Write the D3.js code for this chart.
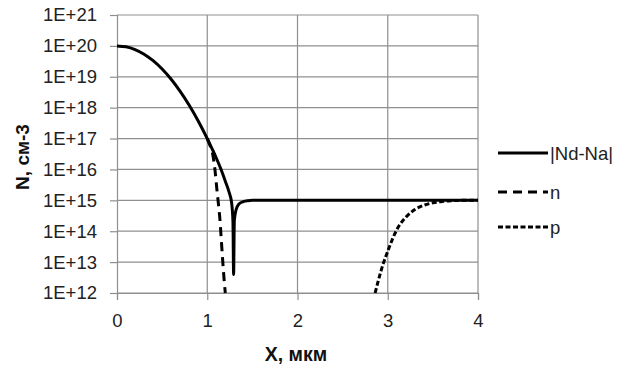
<!DOCTYPE html>
<html>
<head>
<meta charset="utf-8">
<script src="https://cdn.jsdelivr.net/npm/d3@7/dist/d3.min.js"></script>
<style>
  html, body { margin: 0; padding: 0; background: #fff; }
  svg { display: block; font-family: "Liberation Sans", Arial, sans-serif; }
</style>
</head>
<body>
<svg id="chart" width="635" height="365"></svg>
<script>
// Net doping |Nd-Na| and carrier profiles n, p versus depth X (µm), log scale
const xTicks = [0, 1, 2, 3, 4];
const yTickExps = [12, 13, 14, 15, 16, 17, 18, 19, 20, 21];

const netX = [0, 0.1, 0.2, 0.3, 0.4, 0.5, 0.6, 0.7, 0.8, 0.9, 1.0, 1.05, 1.1, 1.15, 1.2, 1.24, 1.27, 1.285, 1.292, 1.3, 1.32, 1.35, 1.4, 1.45, 1.5, 1.6, 2.0, 3.0, 4.0];
const netLog = [20, 19.97, 19.88, 19.73, 19.52, 19.25, 18.92, 18.53, 18.08, 17.57, 17.0, 16.69, 16.37, 16.02, 15.62, 15.28, 14.92, 14.3, 12.6, 14.35, 14.7, 14.88, 14.96, 14.99, 15.0, 15.0, 15.0, 15.0, 15.0];

const nX = [1.0, 1.03, 1.06, 1.085, 1.105, 1.125, 1.14, 1.155, 1.17, 1.185, 1.2];
const nLog = [17.0, 16.78, 16.5, 16.0, 15.4, 14.85, 14.4, 13.75, 13.1, 12.5, 12.0];

const pX = [2.86, 2.9, 2.95, 3.0, 3.06, 3.12, 3.2, 3.3, 3.4, 3.5, 3.6, 3.7, 3.85, 4.0];
const pLog = [12.0, 12.45, 12.95, 13.35, 13.8, 14.15, 14.45, 14.7, 14.84, 14.92, 14.96, 14.985, 15.0, 15.0];

const legendNames = ["|Nd-Na|", "n", "p"];
const legendDash = [null, "9,6", "5,2.5"];

const svg = d3.select("#chart");
const mLeft = 117, mRight = 478, mTop = 15, mBottom = 293;

const x = d3.scaleLinear().domain([0, 4]).range([mLeft, mRight]);
const y = d3.scaleLog().domain([1e12, 1e21]).range([mBottom, mTop]);

const grid = "#8f8f8f";

// grid
svg.append("g").selectAll("line").data(yTickExps).join("line")
  .attr("x1", mLeft).attr("x2", mRight)
  .attr("y1", d => y(Math.pow(10, d))).attr("y2", d => y(Math.pow(10, d)))
  .attr("stroke", grid).attr("stroke-width", 1.2);
svg.append("g").selectAll("line").data(xTicks.slice(1)).join("line")
  .attr("x1", d => x(d)).attr("x2", d => x(d))
  .attr("y1", mTop).attr("y2", mBottom)
  .attr("stroke", grid).attr("stroke-width", 1.2);

// axes
const yAxis = d3.axisLeft(y)
  .tickValues(yTickExps.map(e => Math.pow(10, e)))
  .tickFormat(d => "1E+" + Math.round(Math.log10(d)))
  .tickSize(7).tickPadding(13);
const gy = svg.append("g").attr("transform", `translate(${mLeft},0)`).call(yAxis);
const xAxis = d3.axisBottom(x).tickValues(xTicks).tickFormat(d3.format("d"))
  .tickSize(7).tickPadding(14);
const gx = svg.append("g").attr("transform", `translate(0,${mBottom})`).call(xAxis);
[gy, gx].forEach(g => {
  g.select(".domain").attr("stroke", grid).attr("stroke-width", 1.2);
  g.selectAll(".tick line").attr("stroke", grid).attr("stroke-width", 1.2);
  g.selectAll("text").attr("font-size", 18.5).attr("fill", "#222")
    .attr("font-family", "'Liberation Sans', Arial, sans-serif");
});

// axis titles
svg.append("text").attr("x", 296).attr("y", 361)
  .attr("text-anchor", "middle").attr("font-size", 19.5).attr("font-weight", "bold")
  .attr("fill", "#111").text("X, мкм");
svg.append("text").attr("transform", "translate(29,157) rotate(-90)")
  .attr("text-anchor", "middle").attr("font-size", 19).attr("font-weight", "bold")
  .attr("fill", "#111").text("N, см-3");

// curves
const line = d3.line().x(d => x(d[0])).y(d => y(Math.pow(10, d[1]))).curve(d3.curveMonotoneX);
const series = [
  { xs: netX, ls: netLog, dash: legendDash[0] },
  { xs: nX, ls: nLog, dash: legendDash[1] },
  { xs: pX, ls: pLog, dash: legendDash[2] }
];
const plot = svg.append("g");
[series[2], series[1], series[0]].forEach(s => {
  plot.append("path")
    .datum(s.xs.map((v, i) => [v, s.ls[i]]))
    .attr("d", line)
    .attr("fill", "none").attr("stroke", "#000").attr("stroke-width", 3)
    .attr("stroke-dasharray", s.dash);
});

// legend
const legY = [153, 192, 227];
legendNames.forEach((name, i) => {
  svg.append("line").attr("x1", 498).attr("x2", 548)
    .attr("y1", legY[i]).attr("y2", legY[i])
    .attr("stroke", "#000").attr("stroke-width", 3)
    .attr("stroke-dasharray", legendDash[i]);
  svg.append("text").attr("x", 550).attr("y", legY[i] + 6.5)
    .attr("font-size", 18.5).attr("fill", "#222").text(name);
});
</script>
</body>
</html>
